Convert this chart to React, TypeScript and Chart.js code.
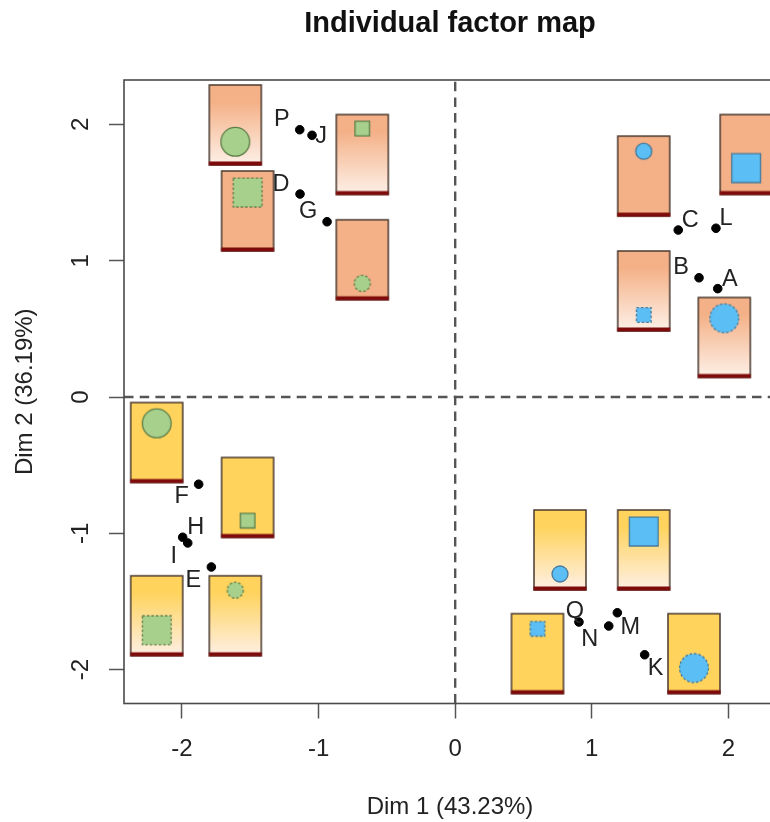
import React, { useEffect, useRef } from "react";
import { Chart, registerables } from "chart.js";

Chart.register(...registerables);

const FONT = '"Liberation Sans", Arial, sans-serif';

const xTicks = [-2, -1, 0, 1, 2];
const yTicks = [-2, -1, 0, 1, 2];

const pointNames = ["P", "J", "D", "G", "C", "L", "B", "A", "F", "H", "I", "E", "Q", "N", "M", "K"];
const pointX = [-1.138, -1.048, -1.136, -0.938, 1.633, 1.909, 1.785, 1.922, -1.878, -1.995, -1.958, -1.785, 0.906, 1.124, 1.187, 1.387];
const pointY = [1.961, 1.92, 1.489, 1.286, 1.225, 1.238, 0.875, 0.795, -0.64, -1.029, -1.071, -1.247, -1.651, -1.68, -1.583, -1.891];
const labelDx = [-18, 9, -19, -19, 12, 10, -18, 12, -17, 13, -14, -18, -4, -19, 13, 11];
const labelDy = [-12, 0, -11, -12, -11, -11, -12, -11, 11, -11, 12, 12, -12, 12, 13, 12];

const glyphX = [-1.61, -0.68, -1.52, -0.68, 1.38, 2.13, 1.38, 1.97, -2.185, -1.52, -2.185, -1.61, 0.767, 1.38, 0.6025, 1.748];
const glyphY = [1.996, 1.779, 1.365, 1.007, 1.621, 1.779, 0.778, 0.437, -0.334, -0.737, -1.605, -1.605, -1.1225, -1.1225, -1.883, -1.883];
const glyphWarm = [1, 1, 1, 1, 1, 1, 1, 1, 0, 0, 0, 0, 0, 0, 0, 0];
const glyphFaded = [1, 1, 0, 0, 0, 0, 1, 1, 0, 0, 1, 1, 1, 1, 0, 0];
const glyphCircle = [1, 0, 0, 1, 1, 0, 0, 1, 1, 0, 0, 1, 1, 0, 0, 1];
const glyphLarge = [1, 0, 1, 0, 0, 1, 0, 1, 1, 0, 1, 0, 0, 1, 0, 1];
const glyphDashed = [0, 0, 1, 1, 0, 0, 1, 1, 0, 0, 1, 1, 0, 0, 1, 1];
const glyphGreen = [1, 1, 1, 1, 0, 0, 0, 0, 1, 1, 1, 1, 0, 0, 0, 0];
const glyphLevel = [0.71, 0.175, 0.27, 0.795, 0.19, 0.67, 0.8, 0.26, 0.26, 0.79, 0.68, 0.18, 0.8, 0.27, 0.19, 0.68];

function makeGlyph(i: number): HTMLCanvasElement {
  const w = 52, h = 80, pad = 2;
  const c = document.createElement("canvas");
  c.width = w + pad * 2;
  c.height = h + pad * 2;
  const g = c.getContext("2d")!;
  g.translate(pad, pad);
  const base = glyphWarm[i] ? "#F4B086" : "#FFD35C";
  const pale = glyphWarm[i] ? "#FDEDE2" : "#FEEEDD";
  if (glyphFaded[i]) {
    const grad = g.createLinearGradient(0, 0, 0, h);
    grad.addColorStop(0, base);
    grad.addColorStop(0.2, base);
    grad.addColorStop(0.95, pale);
    grad.addColorStop(1, pale);
    g.fillStyle = grad;
  } else {
    g.fillStyle = base;
  }
  g.fillRect(0, 0, w, h);
  g.strokeStyle = "#4A3A30";
  g.lineWidth = 1.5;
  g.strokeRect(0, 0, w, h);
  g.fillStyle = "#7E0B0B";
  g.fillRect(-0.5, h - 3.5, w + 1, 4);

  const cx = w / 2;
  const cy = glyphLevel[i] * h;
  const size = glyphLarge[i] ? 14.4 : glyphCircle[i] ? 8 : 7.3;
  g.beginPath();
  if (glyphCircle[i]) g.arc(cx, cy, size, 0, Math.PI * 2);
  else g.rect(cx - size, cy - size, size * 2, size * 2);
  g.fillStyle = glyphGreen[i] ? "#A8D08D" : "#5BBFF5";
  g.fill();
  g.strokeStyle = glyphGreen[i] ? "#5F7F4A" : "#47799A";
  g.lineWidth = 1.3;
  g.setLineDash(glyphDashed[i] ? [2.5, 2] : []);
  g.stroke();
  return c;
}

const boxAndLabels = {
  id: "boxAndLabels",
  afterDatasetsDraw(chart: any) {
    const { ctx, chartArea: a } = chart;
    ctx.save();
    ctx.strokeStyle = "#4A4A4A";
    ctx.lineWidth = 1.6;
    ctx.strokeRect(a.left, a.top, a.right - a.left, a.bottom - a.top);
    const meta = chart.getDatasetMeta(0);
    ctx.fillStyle = "#222222";
    ctx.font = `23.5px ${FONT}`;
    ctx.textAlign = "center";
    ctx.textBaseline = "middle";
    meta.data.forEach((el: any, i: number) => {
      ctx.fillText(pointNames[i], el.x + labelDx[i], el.y + labelDy[i] + 1.5);
    });
    ctx.restore();
  },
};

export default function App() {
  const ref = useRef<HTMLCanvasElement>(null);
  useEffect(() => {
    document.body.style.margin = "0";
    const xMin = -2.4246, xMax = 2.3485, yMin = -2.2487, yMax = 2.3258;
    const dash = {
      showLine: true,
      borderColor: "#555555",
      borderWidth: 2.4,
      borderDash: [9.5, 6.2],
      pointRadius: 0,
      order: 3,
    };
    const chart = new Chart(ref.current!, {
      type: "scatter",
      data: {
        datasets: [
          {
            data: pointX.map((x, i) => ({ x, y: pointY[i] })),
            backgroundColor: "#000000",
            borderColor: "#000000",
            pointRadius: 4.3,
            order: 0,
          },
          {
            data: glyphX.map((x, i) => ({ x, y: glyphY[i] })),
            pointStyle: glyphX.map((_, i) => makeGlyph(i)),
            pointRadius: 10,
            order: 1,
          },
          { ...dash, data: [{ x: xMin, y: 0 }, { x: xMax, y: 0 }] },
          { ...dash, data: [{ x: 0, y: yMin }, { x: 0, y: yMax }] },
        ],
      } as any,
      plugins: [boxAndLabels],
      options: {
        animation: false,
        responsive: false,
        layout: { padding: 0 },
        plugins: {
          legend: { display: false },
          tooltip: { enabled: false },
          title: {
            display: true,
            text: "Individual factor map",
            color: "#111111",
            font: { family: FONT, size: 29, weight: "bold" },
            padding: { top: 7, bottom: 38.2 },
          },
        },
        scales: {
          x: {
            type: "linear",
            min: xMin,
            max: xMax,
            afterBuildTicks: (s: any) => { s.ticks = xTicks.map((value) => ({ value })); },
            afterFit: (s: any) => { s.height = 118.5; },
            border: { display: false },
            grid: { drawOnChartArea: false, tickLength: 15, tickColor: "#555555", tickWidth: 1.5 },
            ticks: { color: "#222222", font: { family: FONT, size: 24 }, padding: 16, maxRotation: 0, minRotation: 0 },
            title: {
              display: true,
              text: "Dim 1 (43.23%)",
              color: "#222222",
              font: { family: FONT, size: 24 },
              padding: { top: 0, bottom: 0 },
            },
          },
          y: {
            type: "linear",
            min: yMin,
            max: yMax,
            afterBuildTicks: (s: any) => { s.ticks = yTicks.map((value) => ({ value })); },
            afterFit: (s: any) => { s.width = 124; },
            border: { display: false },
            grid: { drawOnChartArea: false, tickLength: 15, tickColor: "#555555", tickWidth: 1.5 },
            ticks: { color: "#222222", font: { family: FONT, size: 24 }, padding: 17, minRotation: 90, maxRotation: 90, crossAlign: "center" },
            title: {
              display: true,
              text: "Dim 2 (36.19%)",
              color: "#222222",
              font: { family: FONT, size: 24 },
              padding: { top: 11, bottom: 0 },
            },
          },
          right: {
            type: "linear",
            position: "right",
            display: true,
            afterFit: (s: any) => { s.width = 124; },
            border: { display: false },
            grid: { display: false, drawOnChartArea: false, drawTicks: false },
            ticks: { display: false },
          },
        },
      } as any,
    });
    return () => chart.destroy();
  }, []);
  return (
    <div style={{ position: "absolute", left: 0, top: 0, width: 770, height: 822, overflow: "hidden", background: "#fff" }}>
      <canvas ref={ref} width={900} height={822} style={{ display: "block" }} />
    </div>
  );
}
